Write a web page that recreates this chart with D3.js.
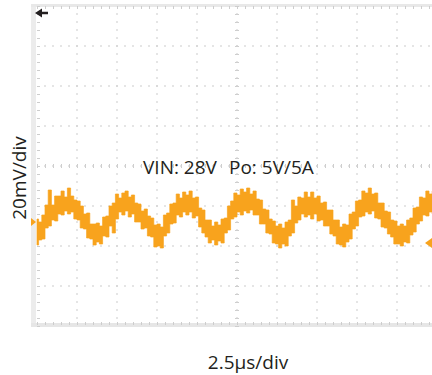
<!DOCTYPE html>
<html>
<head>
<meta charset="utf-8">
<script src="https://cdn.jsdelivr.net/npm/d3@7"></script>
<style>
  html, body { margin: 0; padding: 0; background: #fff; }
  svg { display: block; }
</style>
</head>
<body>
<svg id="chart" width="432" height="375"></svg>
<script>
// Output ripple capture: 2.5 µs/div horizontally, 20 mV/div vertically.
// Samples are 0.2 µs apart; each sample holds the top and bottom of the noise band (mV).
const sampleStepUs = 0.2;

const traceHigh = [
  -26.5, -28, -24.5, -19.5, -12, -19.5, -15, -15, -12.5, -15.5,
  -11, -15, -17, -17.5, -20, -24, -23.5, -29, -29, -28.5,
  -30, -25.5, -25, -20, -18.5, -14, -16, -13.5, -12.5, -15.5,
  -14.5, -18.5, -19, -22.5, -21.5, -25, -26, -29.5, -29, -30.5,
  -24.5, -23.5, -19, -18.5, -14, -16, -13, -14.5, -12.5, -16,
  -15.5, -21, -22, -27, -27, -30, -28, -29.5, -26.5, -26,
  -20, -17.5, -13.5, -14.5, -11.5, -13, -11, -14, -12.5, -16.5,
  -17, -21.5, -22, -26.5, -27.5, -30, -29, -31, -28, -27,
  -17, -20, -15.5, -16, -13, -15.5, -13, -16, -15, -18.5,
  -18, -22, -22, -27, -27, -30.5, -29, -29.5, -24, -23,
  -17.5, -17, -12.5, -13.5, -11, -14, -13.5, -18.5, -18.5, -22.5,
  -23, -27, -27.5, -30, -29, -30, -27, -26, -21, -20.5,
  -15.5, -16, -12.5, -14, -12.5, -14.5
];

const traceLow = [
  -39.5, -37, -36.5, -31, -30, -27, -27.5, -24, -24.5, -22.5,
  -24, -23, -26.5, -27, -31, -31.5, -36, -36.5, -39.5, -38,
  -39, -35, -35.5, -30, -33.5, -26.5, -23, -24.5, -22.5, -25.5,
  -24, -28, -28, -31.5, -31, -35, -35.5, -40.5, -40, -41,
  -35, -33.5, -29, -28.5, -24.5, -25.5, -23, -24.5, -23, -26,
  -25, -30.5, -33.5, -35.5, -38.5, -37, -39.5, -37.5, -38.5, -33.5,
  -32, -26.5, -25.5, -23, -24.5, -22.5, -23.5, -22, -24.5, -24.5,
  -29, -29, -33.5, -34, -38.5, -39, -41, -39, -40, -35,
  -33.5, -28.5, -27, -24, -25.5, -24.5, -26.5, -24, -27.5, -27,
  -30, -30, -34, -35, -39, -39.5, -40.5, -38, -36.5, -31.5,
  -30, -25.5, -25, -23, -24, -22.5, -26, -26.5, -30.5, -31,
  -34, -35.5, -39, -39, -40, -38, -38.5, -34.5, -33, -29,
  -27.5, -24.5, -25, -23, -24, -23.5
];

// Screen extents in physical units
const timeDomainUs = [0, 25];
const voltDomainMv = [-80, 80];
const timePerDiv = 2.5;
const voltPerDiv = 20;
const minorPerDiv = 5;

// Channel ground marker and trigger level (mV), trigger position (µs)
const channelOffsetMv = -28;
const triggerLevelMv = -38.5;
const triggerTimeUs = 0;

const yLabel = "20mV/div";
const xLabel = "2.5μs/div";
const noteLeft = "VIN: 28V";
const noteRight = "Po: 5V/5A";

const traceColor = "#f8a31d";
const inkColor = "#231f20";

const svg = d3.select("#chart");

const x = d3.scaleLinear().domain(timeDomainUs).range([37, 437]);
const y = d3.scaleLinear().domain(voltDomainMv).range([326, 6]);

const samples = traceHigh.map((hi, i) => ({ t: i * sampleStepUs, hi, lo: traceLow[i] }));

const minorT = d3.range(timeDomainUs[0], timeDomainUs[1] + 1e-9, timePerDiv / minorPerDiv);
const minorV = d3.range(voltDomainMv[0], voltDomainMv[1] + 1e-9, voltPerDiv / minorPerDiv);
const majorT = d3.range(timeDomainUs[0] + timePerDiv, timeDomainUs[1] - 1e-9, timePerDiv);
const majorV = d3.range(voltDomainMv[0] + voltPerDiv, voltDomainMv[1] - 1e-9, voltPerDiv);

// Graticule frame
const frame = svg.append("g");
frame.append("rect").attr("x", 31).attr("y", 4).attr("width", 5).attr("height", 323).attr("fill", "#ececec");
frame.append("rect").attr("x", 31).attr("y", 4).attr("width", 401).attr("height", 3).attr("fill", "#e8e8e8");
frame.append("rect").attr("x", 31).attr("y", 323).attr("width", 401).attr("height", 4).attr("fill", "#e6e6e6");

// Edge ticks via d3 axes
function styleTicks(g) {
  g.select(".domain").remove();
  g.selectAll(".tick line").attr("stroke", "#cdcdcd").attr("stroke-width", 1);
}
svg.append("g").attr("transform", `translate(0,${y(voltDomainMv[1])})`)
  .call(d3.axisBottom(x).tickValues(minorT).tickSize(3).tickFormat(""))
  .call(styleTicks);
svg.append("g").attr("transform", `translate(0,${y(voltDomainMv[0]) - 1})`)
  .call(d3.axisTop(x).tickValues(minorT).tickSize(3).tickFormat(""))
  .call(styleTicks);
svg.append("g").attr("transform", `translate(${x(timeDomainUs[0])},0)`)
  .call(d3.axisRight(y).tickValues(minorV).tickSize(3).tickFormat(""))
  .call(styleTicks);

// Center axes with minor tick marks
svg.append("g").attr("transform", `translate(${x(12.5) - 2},0)`)
  .call(d3.axisRight(y).tickValues(minorV).tickSize(4).tickFormat(""))
  .call(styleTicks);
svg.append("g").attr("transform", `translate(0,${y(0) - 2})`)
  .call(d3.axisBottom(x).tickValues(minorT).tickSize(4).tickFormat(""))
  .call(styleTicks);

// Dotted major grid lines
const dots = svg.append("g").attr("fill", "#d2d2d2");
majorT.forEach(t => {
  dots.selectAll(null).data(minorV.slice(1, -1)).enter().append("rect")
    .attr("x", x(t) - 0.75).attr("y", v => y(v) - 0.75)
    .attr("width", 1.5).attr("height", 1.5);
});
majorV.forEach(v => {
  dots.selectAll(null).data(minorT.slice(1)).enter().append("rect")
    .attr("x", t => x(t) - 0.75).attr("y", y(v) - 0.75)
    .attr("width", 1.5).attr("height", 1.5);
});

// Waveform band, drawn as held samples like a scope display
const band = d3.area()
  .curve(d3.curveStep)
  .x(d => x(d.t))
  .y0(d => y(d.lo))
  .y1(d => y(d.hi));
svg.append("path")
  .datum(samples)
  .attr("d", band)
  .attr("fill", traceColor)
  .attr("stroke", traceColor)
  .attr("stroke-width", 0.7);

// Channel ground marker (left) and trigger level marker (right)
const cy0 = y(channelOffsetMv);
svg.append("path")
  .attr("d", `M31,${cy0 - 4}L36,${cy0}L31,${cy0 + 4}Z`)
  .attr("fill", traceColor);
const cyT = y(triggerLevelMv);
svg.append("path")
  .attr("d", `M425,${cyT}L432,${cyT - 5}L432,${cyT + 5}Z`)
  .attr("fill", traceColor);

// Trigger position arrow
const tx = x(triggerTimeUs);
svg.append("path")
  .attr("d", `M${tx - 2},13L${tx + 5},8.5L${tx + 5},11.8L${tx + 11},11.8L${tx + 11},14.2L${tx + 5},14.2L${tx + 5},17.5Z`)
  .attr("fill", inkColor);

// Labels
const font = "'Open Sans', sans-serif";
svg.append("text")
  .attr("transform", "translate(26,178) rotate(-90)")
  .attr("text-anchor", "middle")
  .attr("font-family", font).attr("font-size", 19).attr("fill", inkColor)
  .text(yLabel);
svg.append("text")
  .attr("x", 248).attr("y", 369)
  .attr("text-anchor", "middle")
  .attr("font-family", font).attr("font-size", 19).attr("fill", inkColor)
  .text(xLabel);
svg.append("text")
  .attr("x", 143).attr("y", 174)
  .attr("font-family", font).attr("font-size", 19).attr("fill", inkColor)
  .text(noteLeft);
svg.append("text")
  .attr("x", 229).attr("y", 174)
  .attr("font-family", font).attr("font-size", 19).attr("fill", inkColor)
  .text(noteRight);
</script>
</body>
</html>
